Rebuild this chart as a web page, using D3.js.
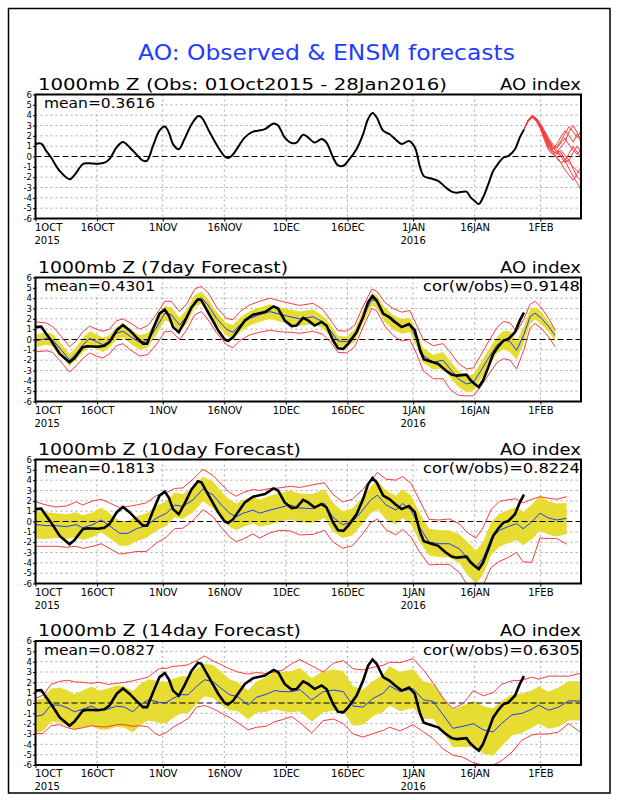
<!DOCTYPE html>
<html>
<head>
<meta charset="utf-8">
<script src="https://cdn.jsdelivr.net/npm/d3@7"></script>
<style>
  body { margin: 0; background: #fff; }
  svg text { font-family: "DejaVu Sans", sans-serif; }
</style>
</head>
<body>
<svg id="chart" width="618" height="800"></svg>
<script>
// x ticks (days after 1 Oct 2015)
const tickDays = [0, 15, 31, 46, 61, 76, 92, 107, 123];
const tickLabels = ["1OCT", "16OCT", "1NOV", "16NOV", "1DEC", "16DEC", "1JAN", "16JAN", "1FEB"];
const yearLabels = [[0, "2015"], [92, "2016"]];
const yTicks = [-6, -5, -4, -3, -2, -1, 0, 1, 2, 3, 4, 5, 6];

// observed AO index [day, value]
const obs = [[0,1.2],[1.4,1.25],[2.6,0.55],[3.8,-0.1],[5.9,-1.4],[8.3,-2.2],[9.5,-1.8],[11.5,-0.75],[12.7,-0.65],
  [15.2,-0.7],[16.8,-0.6],[18,-0.25],[19.8,0.9],[21.3,1.4],[22.9,0.9],[24.6,0.2],[26.2,-0.4],[27.2,-0.4],[28.6,1.0],
  [30.2,2.5],[31.5,2.9],[32.5,2.3],[33.5,1.2],[34.9,0.7],[36.3,1.7],[38,3.1],[39.6,3.9],[40.4,3.8],[42.5,2.3],
  [44.5,0.9],[46.1,0.0],[46.9,-0.15],[48.1,0.2],[51,1.85],[53,2.4],[55.9,2.65],[58,3.2],[59.1,3.0],[60.7,1.85],
  [62.4,1.3],[63.6,1.35],[65.2,2.1],[66.4,1.85],[68,1.35],[69.7,1.7],[70.9,1.35],[72.5,-0.1],[73.7,-0.85],[75,-0.9],
  [76.2,-0.4],[78.2,0.7],[79.8,2.15],[81,3.6],[82.1,4.2],[83.1,3.8],[84.7,2.5],[86.3,2.15],[87.6,1.7],[89.2,1.2],
  [91,1.5],[92.4,0.9],[93.7,-1.05],[94.6,-1.9],[96.1,-2.1],[98.1,-2.35],[99.8,-2.95],[101.4,-3.4],[102.6,-3.5],
  [105,-3.4],[105.9,-3.9],[107,-4.3],[108,-4.6],[109,-4.0],[110.3,-2.7],[111.5,-1.4],[112.8,-0.65],[114,-0.1],
  [115.2,0.05],[116.8,0.7],[118,1.85],[119,2.6]];

// ensemble members after 28 Jan
const ensDays = [119,120,121,122,123,124,125,126,127,128,129,130,131,132,133];
const ensMembers = [
  [2.6,3.5,3.9,3.6,3.0,2.2,1.3,0.8,0.9,1.5,2.2,2.9,2.4,1.8,2.6],
  [2.6,3.4,3.8,3.5,2.8,1.9,1.0,0.5,0.3,0.2,-0.2,-0.6,-1.0,-1.4,-1.8],
  [2.6,3.5,3.9,3.6,3.1,2.4,1.6,1.0,0.6,0.4,-0.4,-1.2,-1.9,-2.6,-3.3],
  [2.6,3.5,4.0,3.7,3.0,2.0,1.1,0.7,1.2,1.9,2.5,2.0,1.4,2.2,1.6],
  [2.6,3.4,3.8,3.4,2.7,1.6,0.6,0.2,0.5,0.0,-0.6,-0.3,-1.2,-2.0,-2.3],
  [2.6,3.5,3.9,3.7,3.2,2.5,1.8,1.2,0.8,1.3,1.8,1.1,0.6,0.2,0.8],
  [2.6,3.4,3.8,3.5,2.9,2.1,1.2,0.4,-0.2,-0.6,-0.4,0.3,1.0,0.4,-0.1],
  [2.6,3.5,3.9,3.6,3.0,2.3,1.5,0.9,0.4,0.9,1.4,2.4,3.0,2.3,1.2],
  [2.6,3.4,3.9,3.6,2.9,1.8,0.8,0.3,0.0,-0.6,-1.3,-1.8,-2.3,-1.6,-1.0],
  [2.6,3.5,3.9,3.6,3.0,2.2,1.4,0.6,0.2,0.6,0.1,-0.4,0.4,1.0,0.3]
];

// forecasts: [day, ens mean, spread (yellow), max above mean, min below mean]
const fc7 = [[0,-0.15,0.6,1.85,1.05],[2.6,0.1,0.6,1.5,1.2],[4.2,-0.05,0.6,1.3,1.2],[6.7,-1.2,0.6,1.3,1.2],
  [8.3,-2.0,0.6,1.3,1.15],[9.9,-1.35,0.6,1.2,1.2],[11.5,-0.55,0.7,1.3,1.3],[13.2,0.1,0.7,1.2,1.4],[14.8,-0.2,0.7,1.2,1.4],
  [16.4,-0.5,0.7,1.3,1.3],[18,-0.2,0.6,1.2,1.2],[19.7,0.6,0.6,1.2,1.2],[21.3,0.8,0.6,1.2,1.2],[23.3,0.25,0.7,1.3,1.3],
  [25.4,-0.3,0.7,1.3,1.3],[27.4,-0.05,0.7,1.4,1.4],[29.4,1.1,0.7,1.3,1.6],[31.5,2.55,0.7,1.15,1.8],[33.1,2.4,0.7,1.3,1.6],
  [35.1,1.4,0.7,1.3,1.4],[36.8,2.2,0.7,1.2,1.3],[38.8,3.7,0.6,1.2,1.3],[40.4,4.05,0.6,1.1,1.35],[42,3.35,0.6,1.2,1.4],
  [44.1,2.05,0.6,1.1,1.4],[46.5,1.0,0.6,1.05,1.5],[48.1,0.7,0.7,1.2,1.5],[49.8,1.4,0.7,1.3,1.5],[52.2,2.05,0.7,1.3,1.6],
  [54.6,2.4,0.7,1.3,1.7],[57.1,2.7,0.7,1.3,1.8],[59.5,2.45,0.7,1.3,1.7],[62,2.2,0.7,1.3,1.5],[64.4,2.0,0.7,1.3,1.4],
  [67.6,2.2,0.7,1.3,1.4],[70,1.7,0.6,1.2,1.2],[72.1,0.75,0.6,1.0,1.1],[73.7,-0.15,0.5,1.0,1.1],[75.8,-0.2,0.5,1.0,1.1],
  [77.8,0.4,0.6,1.0,1.1],[79.8,2.2,0.6,1.0,1.0],[81.9,3.85,0.6,1.0,0.85],[83.1,3.7,0.6,1.0,0.9],[85.1,2.4,0.7,1.2,1.1],
  [87.1,1.7,0.7,1.3,1.3],[89.2,1.25,0.7,1.4,1.4],[91.2,1.4,0.7,1.4,1.4],[92.9,-0.05,0.7,1.4,1.4],[94.5,-1.55,0.7,1.5,1.5],
  [96.9,-2.2,0.7,1.6,1.6],[99.3,-2.0,0.8,1.6,1.8],[101,-2.85,0.8,1.65,1.95],[103,-3.8,0.8,1.5,1.6],[105,-4.3,0.8,1.45,1.15],
  [106.7,-4.15,0.8,1.4,1.3],[108.3,-3.15,0.8,1.5,1.5],[110.3,-1.85,0.8,1.6,1.6],[112.4,-0.55,0.8,1.7,1.7],
  [114,-0.05,0.9,1.8,1.8],[115.6,-0.2,1.0,1.8,1.8],[117.2,-1.05,0.9,1.8,1.8],[118.9,0.4,0.8,1.5,1.5],
  [120.5,2.2,0.7,1.2,1.1],[121.7,2.55,0.6,1.15,1.0],[123.3,2.05,0.6,1.0,1.0],[125,1.25,0.5,0.8,1.0],[126.6,0.4,0.5,0.5,1.1]];

const fc10 = [[0,-0.3,1.35,2.2,2.1],[2.6,-0.4,1.3,2.0,2.0],[5,-0.4,1.2,1.8,2.0],[7.5,-0.5,1.2,2.0,2.0],[9.9,-0.3,1.2,2.2,2.1],
  [11.5,-0.6,1.2,2.2,2.0],[14,-0.3,1.2,2.3,2.1],[16,0.15,1.2,2.0,2.3],[18,-0.4,1.2,2.2,2.2],[20.5,-1.15,1.2,2.5,2.0],
  [22.5,-1.15,1.2,2.6,1.9],[24.6,-0.7,1.2,2.3,2.2],[27,-0.4,1.2,2.2,2.5],[29.4,0.3,1.2,2.2,2.4],[31.9,0.8,1.2,2.0,2.3],
  [33.9,1.6,1.2,1.6,2.3],[35.9,1.45,1.2,1.8,2.1],[38.4,2.1,1.2,2.0,2.0],[40.8,3.15,1.2,1.9,2.0],[43.3,2.55,1.3,1.9,2.1],
  [45.3,1.6,1.3,2.0,2.2],[47.3,0.8,1.3,2.0,2.3],[48.9,0.45,1.3,2.0,2.4],[50.6,0.8,1.3,2.0,2.5],[53,1.1,1.3,2.0,2.3],
  [54.6,0.8,1.3,2.2,2.4],[57.1,1.1,1.4,2.1,2.2],[59.5,1.35,1.4,1.9,2.2],[62,1.6,1.4,1.8,2.5],[64.4,1.3,1.4,2.0,2.6],
  [67.6,1.25,1.4,2.3,2.5],[70.4,1.75,1.4,2.0,2.6],[72.4,0.45,1.4,2.2,2.4],[74.8,-0.3,1.3,2.2,2.3],[77.2,-0.05,1.3,2.2,2.3],
  [79.7,1.1,1.3,2.0,2.3],[81.7,2.1,1.3,1.9,2.2],[83.3,2.55,1.4,2.2,2.3],[85.4,1.6,1.4,2.5,2.4],[87.8,1.1,1.4,2.9,2.4],
  [89.4,1.75,1.4,2.6,2.5],[91.5,1.1,1.4,2.6,2.6],[93.5,-0.5,1.4,2.6,2.4],[95.9,-2.0,1.3,2.2,2.2],[98.4,-2.15,1.3,2.3,2.0],
  [100.8,-2.15,1.3,2.4,2.0],[103.3,-2.65,1.4,2.4,2.3],[105.3,-3.6,1.6,2.5,2.6],[107.3,-4.4,1.6,2.8,2.5],[109,-3.6,1.6,3.0,2.6],
  [111,-1.65,1.6,2.8,2.8],[113,-0.85,1.6,2.8,3.0],[115.1,-0.5,1.6,2.6,3.0],[117.2,-0.2,1.6,2.4,2.8],[118.8,-0.7,1.6,2.5,3.2],
  [120.9,-0.05,1.7,2.2,3.9],[122.9,0.8,1.7,1.6,2.4],[124.9,0.35,1.6,1.9,2.0],[127,0.15,1.6,2.0,1.8],[129.4,0.3,1.5,2.1,2.5]];

const fc14 = [[0,-1.3,1.6,1.75,1.65],[1.8,-1.15,1.6,1.9,1.8],[3.8,-0.2,1.6,2.0,2.0],[5.9,-0.2,1.7,2.3,1.9],[7.9,-0.5,1.7,2.7,1.9],
  [9.5,-0.85,1.7,2.9,1.7],[11.5,-0.6,1.8,2.6,1.8],[13.6,-0.3,1.9,2.2,1.9],[15.6,-0.7,1.9,2.7,1.6],[17.6,-0.6,2.0,2.4,1.7],
  [19.7,-0.3,2.0,2.2,1.8],[21.7,-0.4,2.0,2.4,1.7],[23.7,-0.85,2.0,3.0,1.4],[25.4,-0.2,2.0,2.5,2.0],[27.4,0.3,2.0,2.2,2.6],
  [29,0.2,2.0,2.8,3.1],[30.2,0.05,2.0,3.3,3.2],[31.9,0.05,2.0,3.3,2.9],[33.5,0.45,1.9,3.1,2.8],[35.5,0.8,1.8,2.8,2.7],
  [37.2,0.8,1.8,2.9,2.3],[39.2,1.6,1.7,2.5,2.0],[41.2,2.25,1.6,2.3,2.5],[43.3,2.05,1.6,2.0,2.6],[45.3,1.4,1.6,2.3,2.4],
  [47.3,0.8,1.5,2.5,2.2],[49.3,0.6,1.4,2.4,2.5],[51.8,-0.2,1.4,3.0,2.4],[53.8,0.55,1.5,2.4,2.9],[56.3,0.85,1.7,2.0,3.1],
  [58.3,1.2,1.8,1.8,3.0],[60.3,1.1,1.9,2.1,2.7],[62.4,1.1,2.0,2.7,2.4],[64.4,1.3,2.1,2.9,3.2],[67.3,0.3,2.1,3.3,3.2],
  [70.1,1.1,2.0,1.9,2.8],[72.6,1.25,2.0,2.6,2.8],[75,1.1,2.0,3.0,3.1],[77.4,-0.3,1.9,3.6,2.7],[79.8,-0.4,1.7,3.6,2.9],
  [82.3,0.45,1.7,3.0,3.4],[84.7,0.95,1.8,2.7,3.6],[86.3,1.65,1.9,2.3,4.0],[88.8,1.1,1.9,2.8,3.8],[92,1.4,1.9,2.9,3.5],
  [94.5,0.3,1.8,2.9,3.1],[96.9,0.15,1.7,1.8,3.6],[99.3,-1.15,1.7,1.6,3.3],[101.7,-2.45,1.8,1.9,2.6],[104.2,-2.25,2.0,2.2,3.0],
  [106.7,-2.0,2.2,3.2,3.8],[109.1,-2.6,2.3,3.3,3.4],[111.5,-2.8,2.3,3.8,3.2],[113.5,-2.0,2.2,3.8,3.6],[116.1,-1.15,2.0,3.3,3.6],
  [118.5,-1.0,1.9,3.2,2.6],[120.9,-0.6,1.8,3.1,2.5],[122.6,-0.2,1.8,2.5,2.8],[125,-0.7,1.8,3.3,2.3],[127.4,-0.4,1.9,3.0,2.4],
  [129.9,0.2,1.9,2.4,2.2],[133,0.2,1.9,2.7,3.1]];

const panels = [
  { title: "1000mb Z (Obs: 01Oct2015 - 28Jan2016)", titleW: 409, mean: "mean=0.3616", cor: null, fc: null },
  { title: "1000mb Z (7day Forecast)", titleW: 250, mean: "mean=0.4301", cor: "cor(w/obs)=0.9148", fc: fc7 },
  { title: "1000mb Z (10day Forecast)", titleW: 263, mean: "mean=0.1813", cor: "cor(w/obs)=0.8224", fc: fc10 },
  { title: "1000mb Z (14day Forecast)", titleW: 263, mean: "mean=0.0827", cor: "cor(w/obs)=0.6305", fc: fc14 }
];

const RED = "rgb(250,60,60)", BLUE = "rgb(30,60,255)", YELLOW = "rgb(230,220,50)";
const left = 35.5, right = 581, plotH = 124;
const panelTops = [94.5, 277.5, 459.5, 641];

const svg = d3.select("#chart");
const x = d3.scaleLinear().domain([0, 132.9]).range([left, right]);

svg.append("rect")
  .attr("x", 8.5).attr("y", 8.5)
  .attr("width", 601.5).attr("height", 784.5)
  .attr("fill", "none").attr("stroke", "#000").attr("stroke-width", 1.5);

svg.append("text")
  .attr("x", 138).attr("y", 60)
  .attr("textLength", 377).attr("lengthAdjust", "spacingAndGlyphs")
  .style("font-size", "21px").style("fill", BLUE)
  .text("AO: Observed & ENSM forecasts");

panels.forEach((p, i) => drawPanel(p, panelTops[i], i));

function drawPanel(p, top, idx) {
  const bottom = top + plotH;
  const y = d3.scaleLinear().domain([-6, 6]).range([bottom, top]);
  const g = svg.append("g");

  g.append("clipPath").attr("id", "clip" + idx)
    .append("rect").attr("x", left).attr("y", top).attr("width", right - left).attr("height", plotH);

  // grid
  g.selectAll(".hgrid")
    .data(yTicks.filter(v => v !== 0 && Math.abs(v) < 6))
    .join("line")
    .attr("x1", left).attr("x2", right)
    .attr("y1", d => y(d)).attr("y2", d => y(d))
    .attr("stroke", "#a8a8a8").attr("stroke-dasharray", "2,3");
  g.selectAll(".vgrid")
    .data(tickDays.slice(1))
    .join("line")
    .attr("x1", d => x(d)).attr("x2", d => x(d))
    .attr("y1", top).attr("y2", bottom)
    .attr("stroke", "#a8a8a8").attr("stroke-dasharray", "2,3");

  const plot = g.append("g").attr("clip-path", `url(#clip${idx})`);

  if (p.fc) {
    plot.append("path")
      .datum(p.fc)
      .attr("fill", YELLOW)
      .attr("d", d3.area().x(d => x(d[0])).y0(d => y(d[1] - d[2])).y1(d => y(d[1] + d[2])));
  }

  plot.append("line")
    .attr("x1", left).attr("x2", right)
    .attr("y1", y(0)).attr("y2", y(0))
    .attr("stroke", "#000").attr("stroke-width", 1.2).attr("stroke-dasharray", "6,3");

  if (p.fc) {
    const lineOf = f => d3.line().x(d => x(d[0])).y(f);
    plot.append("path").datum(p.fc)
      .attr("fill", "none").attr("stroke", RED).attr("stroke-width", 1)
      .attr("d", lineOf(d => y(d[1] + d[3])));
    plot.append("path").datum(p.fc)
      .attr("fill", "none").attr("stroke", RED).attr("stroke-width", 1)
      .attr("d", lineOf(d => y(d[1] - d[4])));
    plot.append("path").datum(p.fc)
      .attr("fill", "none").attr("stroke", BLUE).attr("stroke-width", 1)
      .attr("d", lineOf(d => y(d[1])));
    plot.append("path").datum(obs)
      .attr("fill", "none").attr("stroke", "#000").attr("stroke-width", 2.6)
      .attr("d", d3.line().x(d => x(d[0])).y(d => y(d[1])));
  } else {
    ensMembers.forEach(m => {
      plot.append("path").datum(m)
        .attr("fill", "none").attr("stroke", RED).attr("stroke-width", 1)
        .attr("d", d3.line().x((d, i) => x(ensDays[i])).y(d => y(d)));
    });
    plot.append("path").datum(obs)
      .attr("fill", "none").attr("stroke", "#000").attr("stroke-width", 2)
      .attr("d", d3.line().curve(d3.curveCatmullRom).x(d => x(d[0])).y(d => y(d[1])));
  }

  // labels inside plot
  g.append("rect").attr("x", left + 2).attr("y", top + 1.5).attr("width", 120).attr("height", 15).attr("fill", "#fff");
  g.append("text")
    .attr("x", 44).attr("y", top + 13.5)
    .attr("textLength", 111).attr("lengthAdjust", "spacingAndGlyphs")
    .style("font-size", "14px")
    .text(p.mean);
  if (p.cor) {
    g.append("rect").attr("x", 418).attr("y", top + 1.5).attr("width", 162).attr("height", 15).attr("fill", "#fff");
    g.append("text")
      .attr("x", 423).attr("y", top + 13.5)
      .attr("textLength", 157).attr("lengthAdjust", "spacingAndGlyphs")
      .style("font-size", "14px")
      .text(p.cor);
  }

  g.append("rect")
    .attr("x", left).attr("y", top)
    .attr("width", right - left).attr("height", plotH)
    .attr("fill", "none").attr("stroke", "#000").attr("stroke-width", 2);

  // titles
  g.append("text")
    .attr("x", 38).attr("y", top - 5)
    .attr("textLength", p.titleW).attr("lengthAdjust", "spacingAndGlyphs")
    .style("font-size", "16.5px")
    .text(p.title);
  g.append("text")
    .attr("x", 581).attr("y", top - 5)
    .attr("text-anchor", "end")
    .attr("textLength", 81).attr("lengthAdjust", "spacingAndGlyphs")
    .style("font-size", "16.5px")
    .text("AO index");

  // axes
  const xAxis = g.append("g")
    .attr("transform", `translate(0,${bottom})`)
    .call(d3.axisBottom(x).tickValues(tickDays).tickFormat((d, i) => tickLabels[i]).tickSize(3).tickPadding(2));
  xAxis.select(".domain").remove();
  xAxis.selectAll("text").style("font-size", "10px").attr("font-family", null);
  xAxis.selectAll(".tick").filter(d => d === 0).select("text").attr("text-anchor", "start").attr("x", -1);

  g.selectAll(".yearLabel")
    .data(yearLabels)
    .join("text")
    .attr("x", d => d[0] === 0 ? x(d[0]) - 1 : x(d[0]))
    .attr("y", bottom + 25)
    .attr("text-anchor", d => d[0] === 0 ? "start" : "middle")
    .style("font-size", "10px")
    .text(d => d[1]);

  const yAxis = g.append("g")
    .attr("transform", `translate(${left},0)`)
    .call(d3.axisLeft(y).tickValues(yTicks).tickFormat(d => String(d)).tickSize(2.5).tickPadding(1));
  yAxis.select(".domain").remove();
  yAxis.selectAll("text").style("font-size", "8.5px").attr("font-family", null);
}
</script>
</body>
</html>
